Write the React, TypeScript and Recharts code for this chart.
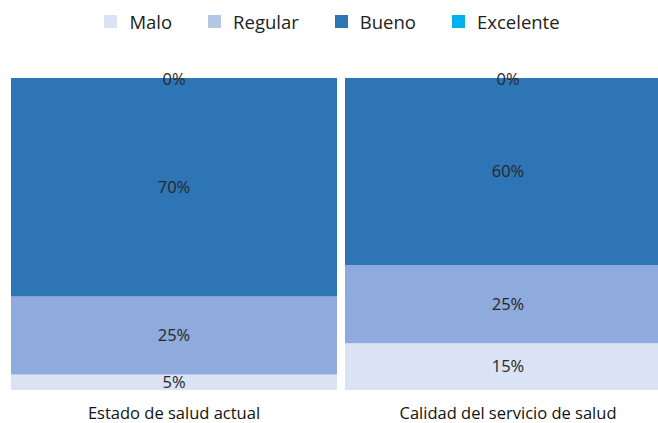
import React from "react";
import { BarChart, Bar, XAxis, YAxis, Legend, LabelList } from "recharts";

const categories = ["Estado de salud actual", "Calidad del servicio de salud"];
const malo = [5, 15];
const regular = [25, 25];
const bueno = [70, 60];
const excelente = [0, 0];

const data = categories.map((name, i) => ({
  name,
  Malo: malo[i],
  Regular: regular[i],
  Bueno: bueno[i],
  Excelente: excelente[i],
}));

const series = [
  { key: "Malo", color: "#DAE3F3", legend: "#DAE3F3" },
  { key: "Regular", color: "#8FAADC", legend: "#B4C7E7" },
  { key: "Bueno", color: "#2E75B6", legend: "#2E75B6" },
  { key: "Excelente", color: "#00B0F0", legend: "#00B0F0" },
];

const font = "'Open Sans', sans-serif";
const labelStyle = { fontFamily: font, fontSize: 16.5, fill: "#262626" };

const renderLegend = () => (
  <div
    style={{
      height: 30,
      display: "flex",
      justifyContent: "center",
      alignItems: "center",
      gap: 36,
      fontFamily: font,
      fontSize: 18.5,
      color: "#222",
      paddingLeft: 6,
    }}
  >
    {series.map((s) => (
      <div key={s.key} style={{ display: "flex", alignItems: "center" }}>
        <span style={{ width: 13, height: 13, background: s.legend, marginRight: 12 }} />
        <span>{s.key}</span>
      </div>
    ))}
  </div>
);

// zero-height top segment: draw its label on the top edge of the stack
const renderTopLabel = (props: any) => {
  const { x, y, width, index } = props;
  return (
    <text
      x={x + width / 2}
      y={y}
      textAnchor="middle"
      dominantBaseline="central"
      style={labelStyle}
    >
      {`${excelente[index]}%`}
    </text>
  );
};

export default function App() {
  return (
    <div style={{ position: "absolute", top: 0, left: 0, width: 658, height: 423, overflow: "hidden", background: "#fff" }}>
      <BarChart
        width={680}
        height={423}
        data={data}
        margin={{ top: 48, right: 5, bottom: 0, left: 7 }}
        barCategoryGap={4}
      >
        <XAxis
          dataKey="name"
          axisLine={false}
          tickLine={false}
          height={33}
          tickMargin={11}
          tick={{ fontFamily: font, fontSize: 16.5, fill: "#111" }}
        />
        <YAxis hide domain={[0, 100]} />
        <Legend
          verticalAlign="top"
          content={renderLegend}
          wrapperStyle={{ top: 6, left: 0, width: 658 }}
        />
        {series.map((s) => (
          <Bar key={s.key} dataKey={s.key} stackId="a" fill={s.color} isAnimationActive={false}>
            {s.key === "Bueno" ? <LabelList dataKey="Excelente" content={renderTopLabel} /> : null}
            {s.key !== "Excelente" ? (
              <LabelList
                dataKey={s.key}
                position="center"
                formatter={(v: number) => `${v}%`}
                style={labelStyle}
              />
            ) : null}
          </Bar>
        ))}
      </BarChart>
    </div>
  );
}
